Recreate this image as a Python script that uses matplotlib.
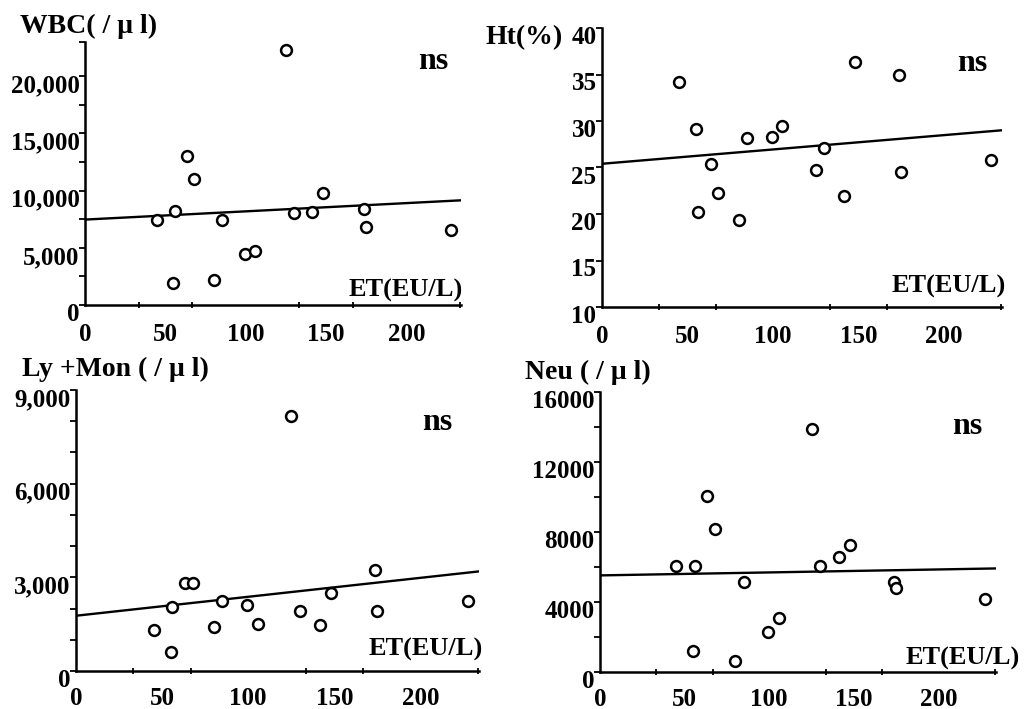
import matplotlib
import matplotlib.pyplot as plt
import matplotlib.transforms as mtransforms
import numpy as np

matplotlib.use('Agg')

plt.rcParams['font.family'] = ['Liberation Serif', 'DejaVu Serif']
plt.rcParams['font.weight'] = 'bold'

# ET (EU/L) shared by all four panels
et = [45, 55, 56, 63.5, 68, 80, 85, 99.5, 105.5, 125, 130, 141.5, 148, 173.5, 175, 227.5]

wbc = [7400, 1950, 8230, 13050, 11050, 2180, 7410, 4450, 4680, 22300, 8050, 8170, 9830, 8370, 6830, 6540]
ht = [34.2, 29.1, 20.2, 25.4, 22.3, 19.4, 28.2, 28.3, 29.5, 24.7, 27.1, 21.9, 36.3, 35.0, 24.5, 25.8]
ly_mon = [1320, 620, 2050, 2820, 2820, 1400, 2250, 2100, 1490, 8160, 1930, 1480, 2500, 3250, 1930, 2250]
neu = [6080, 1180, 6080, 10040, 8190, 650, 5120, 2300, 3090, 13890, 6080, 6550, 7240, 5120, 4800, 4170]

# regression lines (intercept, slope)
wbc_fit = (7470, 7.2)
ht_fit = (25.4, 0.0154)
ly_mon_fit = (1770, 6.07)
neu_fit = (5520, 1.70)

x_labels = [0, 50, 100, 150, 200]
X_MAX = 234

W, H = 1029, 709


def px_rect(left, right, top, bottom):
    return [left / W, (H - bottom) / H, (right - left) / W, (bottom - top) / H]


def panel(fig, rect, y, fit, ylim, majors, minors, fmt, ns_pos, et_pos, xpad=13):
    ax = fig.add_axes(rect)
    ax.plot(et, y, 'o', ms=7.8, mfc='white', mec='black', mew=1.8, zorder=3)
    xs = np.array([0, X_MAX])
    ax.plot(xs, fit[0] + fit[1] * xs, color='black', lw=1.7)

    ax.set_xlim(0, X_MAX)
    ax.set_ylim(*ylim)
    for side in ['top', 'right']:
        ax.spines[side].set_visible(False)
    for side in ['left', 'bottom']:
        ax.spines[side].set_linewidth(1.8)

    # x: labels at 0,50,...; tick marks every 100/3
    ax.set_xticks(x_labels)
    ax.set_xticklabels([str(v) for v in x_labels], fontsize=18, fontweight='bold')
    ax.set_xticks(np.arange(0, X_MAX, 100 / 3), minor=True)
    ax.tick_params(axis='x', which='major', length=0, pad=xpad)
    ax.tick_params(axis='x', which='minor', length=5, width=1.3, direction='inout')

    ax.set_yticks(majors)
    ax.set_yticklabels([fmt(v) for v in majors], fontsize=18, fontweight='bold')
    ax.set_yticks(minors, minor=True)
    ax.tick_params(axis='y', which='major', length=4, width=1.3, pad=0)
    ax.tick_params(axis='y', which='minor', length=4, width=1.3)

    # labels in the scan sit a little below their ticks
    offset = mtransforms.ScaledTranslation(0, -0.07, fig.dpi_scale_trans)
    for tick in ax.yaxis.get_major_ticks():
        tick.label1.set_transform(tick.label1.get_transform() + offset)

    ax.text(ns_pos[0], ns_pos[1], 'ns', transform=ax.transAxes, fontsize=23,
            fontweight='bold', ha='center', va='center')
    ax.text(et_pos[0], et_pos[1], 'ET(EU/L)', transform=ax.transAxes, fontsize=19,
            fontweight='bold', ha='right', va='center')
    return ax


def main():
    fig = plt.figure(figsize=(W / 100, H / 100), dpi=100)

    comma = lambda v: f'{v:,}'
    plain = lambda v: str(v)

    panel(fig, px_rect(85, 461, 42, 305), wbc, wbc_fit, (0, 23000),
          [0, 5000, 10000, 15000, 20000], [2500, 7500, 12500, 17500, 23000], comma,
          (0.925, 0.924), (1.005, 0.057))
    panel(fig, px_rect(602, 1002, 28, 307), ht, ht_fit, (10, 40),
          [10, 15, 20, 25, 30, 35, 40], [], plain,
          (0.925, 0.873), (1.01, 0.072))
    panel(fig, px_rect(76, 479, 390, 671), ly_mon, ly_mon_fit, (0, 9000),
          [0, 3000, 6000, 9000], [1000, 2000, 4000, 5000, 7000, 8000], comma,
          (0.896, 0.883), (1.01, 0.075), xpad=11.5)
    panel(fig, px_rect(600, 996, 392, 672), neu, neu_fit, (0, 16000),
          [0, 4000, 8000, 12000, 16000], [2000, 6000, 10000, 14000], plain,
          (0.927, 0.875), (1.06, 0.05), xpad=11.5)

    fig.text(20 / W, 1 - 26 / H, 'WBC( / μ l)', fontsize=20, fontweight='bold',
             ha='left', va='center')
    fig.text(563 / W, 1 - 38 / H, 'Ht(%)', fontsize=20, fontweight='bold',
             ha='right', va='center')
    fig.text(22 / W, 1 - 369 / H, 'Ly +Mon ( / μ l)', fontsize=20, fontweight='bold',
             ha='left', va='center')
    fig.text(525 / W, 1 - 372 / H, 'Neu ( / μ l)', fontsize=20, fontweight='bold',
             ha='left', va='center')

    fig.savefig('out.png', dpi=100, facecolor='white')


if __name__ == '__main__':
    main()
